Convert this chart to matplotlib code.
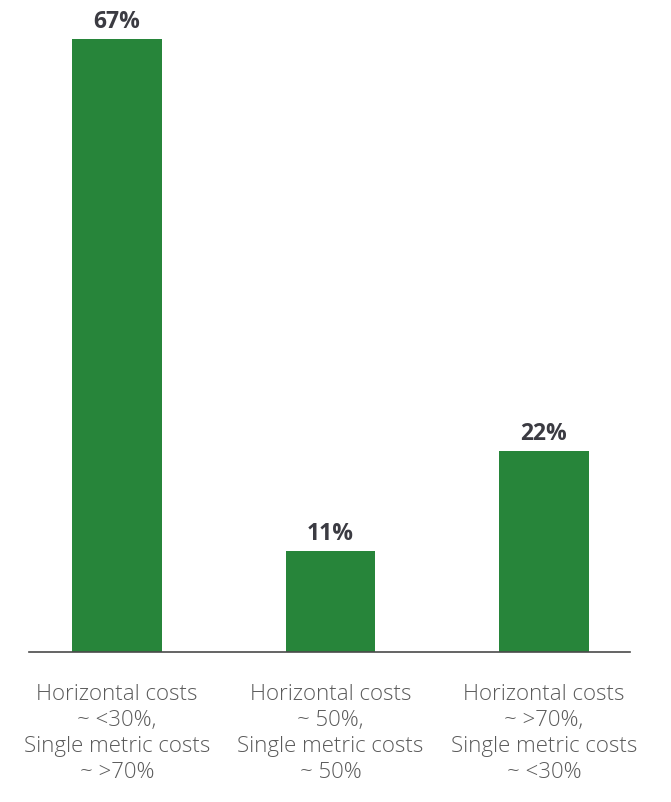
import matplotlib
matplotlib.use('Agg')
import matplotlib.pyplot as plt

# Share of cost structure per category
categories = ['Horizontal costs\n~ <30%,\nSingle metric costs\n~ >70%',
              'Horizontal costs\n~ 50%,\nSingle metric costs\n~ 50%',
              'Horizontal costs\n~ >70%,\nSingle metric costs\n~ <30%']
values = [67, 11, 22]

bar_color = '#27853a'
label_color = '#5a5a5a'
value_color = '#3b3b42'
myfont = 'Open Sans'

fig = plt.figure(figsize=(6.71, 8.02), dpi=100)
ax = fig.add_axes([29/671, 150/802, 601/671, 613/802])

x = range(len(values))
ax.bar(x, values, width=0.42, color=bar_color)

for i, v in zip(x, values):
    ax.annotate(str(v) + '%', xy=(i, v), xytext=(0, 3.5), textcoords='offset points',
                ha='center', va='bottom', fontsize=16.5, fontweight='bold',
                fontname=myfont, color=value_color, annotation_clip=False)
    ax.annotate(categories[i], xy=(i, 0), xytext=(0, -23), textcoords='offset points',
                ha='center', va='top', fontsize=16, fontweight='light',
                fontname=myfont, color=label_color, linespacing=1.32,
                annotation_clip=False)

ax.set_xlim(-0.412, 2.403)
ax.set_ylim(0, 67)
for s in ['top', 'right', 'left']:
    ax.spines[s].set_visible(False)
ax.spines['bottom'].set_color('#4a4a4a')
ax.spines['bottom'].set_linewidth(1.2)
ax.set_xticks([])
ax.set_yticks([])

fig.savefig('out.png', dpi=100)
